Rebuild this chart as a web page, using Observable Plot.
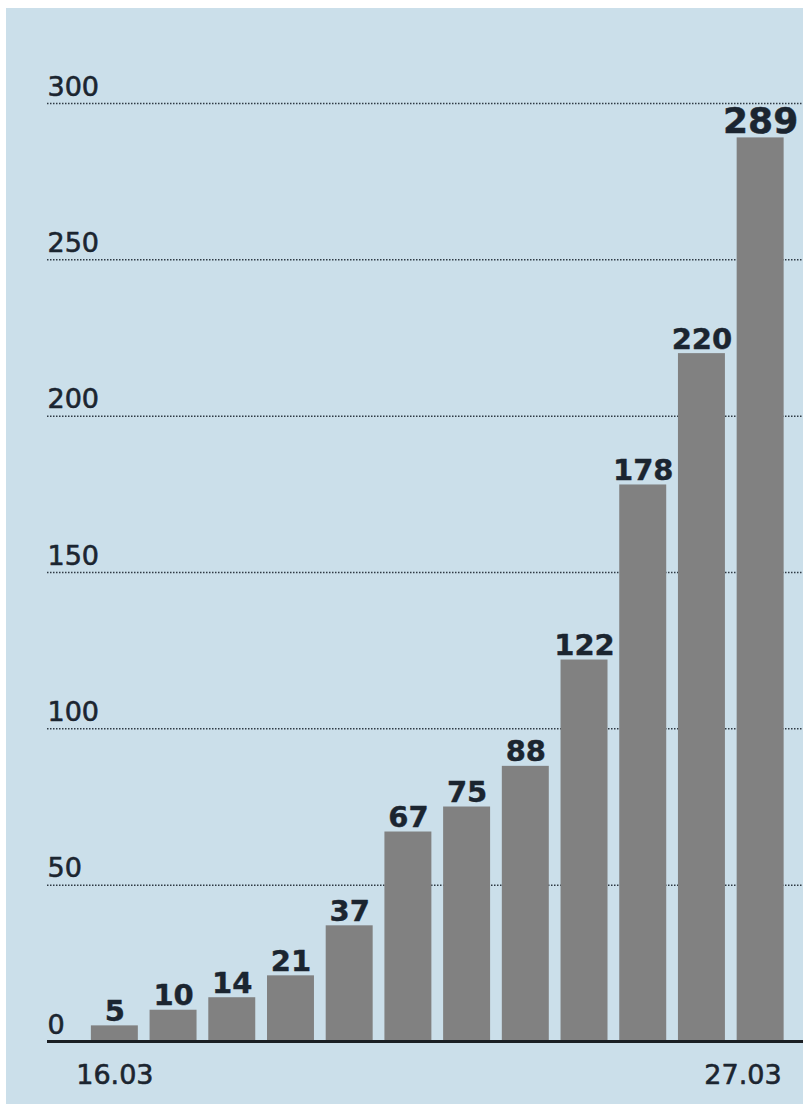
<!DOCTYPE html>
<html>
<head>
<meta charset="utf-8">
<script src="https://cdn.jsdelivr.net/npm/d3@7"></script>
<script src="https://cdn.jsdelivr.net/npm/@observablehq/plot@0.6"></script>
<style>
  html, body { margin: 0; padding: 0; background: #ffffff; }
  #panel { position: absolute; left: 6px; top: 8px; width: 797px; height: 1096px; background: #cbdfea; overflow: hidden; }
  #panel svg { display: block; }
</style>
</head>
<body>
<div id="panel"></div>
<script>
const dates = ["16.03","17.03","18.03","19.03","20.03","21.03","22.03","23.03","24.03","25.03","26.03","27.03"];
const cases = [5, 10, 14, 21, 37, 67, 75, 88, 122, 178, 220, 289];
const yTicks = [0, 50, 100, 150, 200, 250, 300];
const xTickLabels = ["16.03", "27.03"];

const data = dates.map((d, i) => ({date: d, value: cases[i]}));
const textColor = "#1b2530";

const chart = Plot.plot({
  width: 797,
  height: 1096,
  marginLeft: 79,
  marginRight: 13.5,
  marginTop: 95,
  marginBottom: 63,
  style: {background: "transparent", fontFamily: "DejaVu Sans", overflow: "visible"},
  x: {domain: dates, paddingInner: 0.2, paddingOuter: 0.1, round: false, axis: null},
  y: {domain: [0, 300], axis: null},
  marks: [
    Plot.ruleY(yTicks.filter(d => d > 0), {stroke: "#2f3a44", strokeWidth: 1.5, strokeDasharray: "1.5,1.5", insetLeft: -38, insetRight: -13.5}),
    Plot.barY(data, {x: "date", y: "value", fill: "#818181"}),
    Plot.ruleY([0], {stroke: "#1a1f24", strokeWidth: 3, insetLeft: -38, insetRight: -13.5}),
    Plot.text(yTicks, {y: d => d, text: d => String(d), frameAnchor: "left", dx: -38, dy: -8, textAnchor: "start", lineAnchor: "bottom", fontSize: 27, fill: textColor, stroke: textColor, strokeWidth: 0.6}),
    Plot.text(data.slice(0, -1), {x: "date", y: "value", text: d => String(d.value), lineAnchor: "bottom", dy: -5, fontSize: 29, fontWeight: "bold", fill: textColor, stroke: textColor, strokeWidth: 0.4}),
    Plot.text(data.slice(-1), {x: "date", y: "value", text: d => String(d.value), lineAnchor: "bottom", dy: -5, fontSize: 36, fontWeight: "bold", fill: textColor, stroke: textColor, strokeWidth: 0.5}),
    Plot.text([xTickLabels[0]], {x: d => d, y: 0, text: d => d, lineAnchor: "bottom", dy: 42, textAnchor: "middle", fontSize: 27, fill: textColor, stroke: textColor, strokeWidth: 0.6}),
    Plot.text([xTickLabels[1]], {x: d => d, y: 0, text: d => d, lineAnchor: "bottom", dy: 42, dx: 21, textAnchor: "end", fontSize: 27, fill: textColor, stroke: textColor, strokeWidth: 0.6})
  ]
});
document.getElementById("panel").appendChild(chart);
</script>
</body>
</html>
